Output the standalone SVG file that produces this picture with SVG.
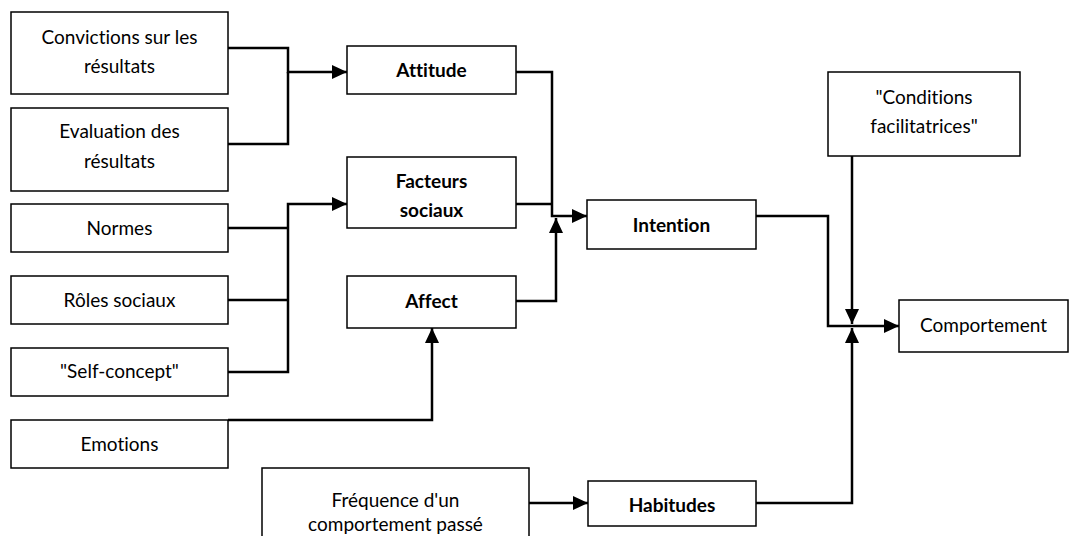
<svg xmlns="http://www.w3.org/2000/svg" width="1070" height="536" viewBox="0 0 1070 536">
<style>
.box{fill:#fff;stroke:#000;stroke-width:1.5}
.t{font-family:Lato,"Liberation Sans",sans-serif;font-size:19px;fill:#000;text-anchor:middle;font-variant-ligatures:none}
.b{font-weight:bold}
.c{fill:none;stroke:#000;stroke-width:2.5}
</style>
<defs>
<marker id="ah" markerUnits="userSpaceOnUse" markerWidth="16" markerHeight="15" refX="15" refY="7" orient="auto" viewBox="0 0 16 15">
<path d="M0,0 L15,7 L0,14 z" fill="#000"/>
</marker>
</defs>
<rect width="1070" height="536" fill="#fff"/>
<g id="connectors">
<path class="c" d="M228,48 H288 V72 H347" marker-end="url(#ah)"/>
<path class="c" d="M228,144 H288 V72"/>
<path class="c" d="M228,372 H288 V204 H347" marker-end="url(#ah)"/>
<path class="c" d="M228,228 H288"/>
<path class="c" d="M228,300 H288"/>
<path class="c" d="M228,420 H432 V328" marker-end="url(#ah)"/>
<path class="c" d="M516,72 H552 V216 H587" marker-end="url(#ah)"/>
<path class="c" d="M516,204 H552"/>
<path class="c" d="M516,301 H556 V218" marker-end="url(#ah)"/>
<path class="c" d="M756,216 H828 V326 H899" marker-end="url(#ah)"/>
<path class="c" d="M852,156 V324" marker-end="url(#ah)"/>
<path class="c" d="M529,503 H588" marker-end="url(#ah)"/>
<path class="c" d="M756,503 H852 V328" marker-end="url(#ah)"/>
</g>
<g id="convictions"><rect class="box" x="11" y="12" width="217" height="82"/><text class="t" x="119.5" y="44">Convictions sur les</text><text class="t" x="119.5" y="73">résultats</text></g>
<g id="evaluation"><rect class="box" x="11" y="108" width="217" height="83"/><text class="t" x="119.5" y="138">Evaluation des</text><text class="t" x="119.5" y="168">résultats</text></g>
<g id="normes"><rect class="box" x="11" y="204" width="217" height="48"/><text class="t" x="119.5" y="235">Normes</text></g>
<g id="roles"><rect class="box" x="11" y="276" width="217" height="48"/><text class="t" x="119.5" y="307">Rôles sociaux</text></g>
<g id="selfconcept"><rect class="box" x="11" y="348" width="217" height="48"/><text class="t" x="119.5" y="378">"Self-concept"</text></g>
<g id="emotions"><rect class="box" x="11" y="420" width="217" height="48"/><text class="t" x="119.5" y="451">Emotions</text></g>
<g id="frequence"><rect class="box" x="262" y="468" width="267" height="80"/><text class="t" x="395.5" y="507">Fréquence d'un</text><text class="t" x="395.5" y="531">comportement passé</text></g>
<g id="attitude"><rect class="box" x="347" y="46" width="169" height="48"/><text class="t b" x="431.5" y="77">Attitude</text></g>
<g id="facteurs"><rect class="box" x="347" y="157" width="169" height="71"/><text class="t b" x="431.5" y="188">Facteurs</text><text class="t b" x="431.5" y="217">sociaux</text></g>
<g id="affect"><rect class="box" x="347" y="276" width="169" height="52"/><text class="t b" x="431.5" y="308">Affect</text></g>
<g id="intention"><rect class="box" x="587" y="200" width="169" height="49"/><text class="t b" x="671.5" y="232">Intention</text></g>
<g id="conditions"><rect class="box" x="828" y="72" width="192" height="84"/><text class="t" x="924" y="104">"Conditions</text><text class="t" x="924" y="133">facilitatrices"</text></g>
<g id="comportement"><rect class="box" x="899" y="300" width="169" height="52"/><text class="t" x="983.5" y="332">Comportement</text></g>
<g id="habitudes"><rect class="box" x="588" y="481" width="168" height="45"/><text class="t b" x="672" y="512">Habitudes</text></g>
</svg>
